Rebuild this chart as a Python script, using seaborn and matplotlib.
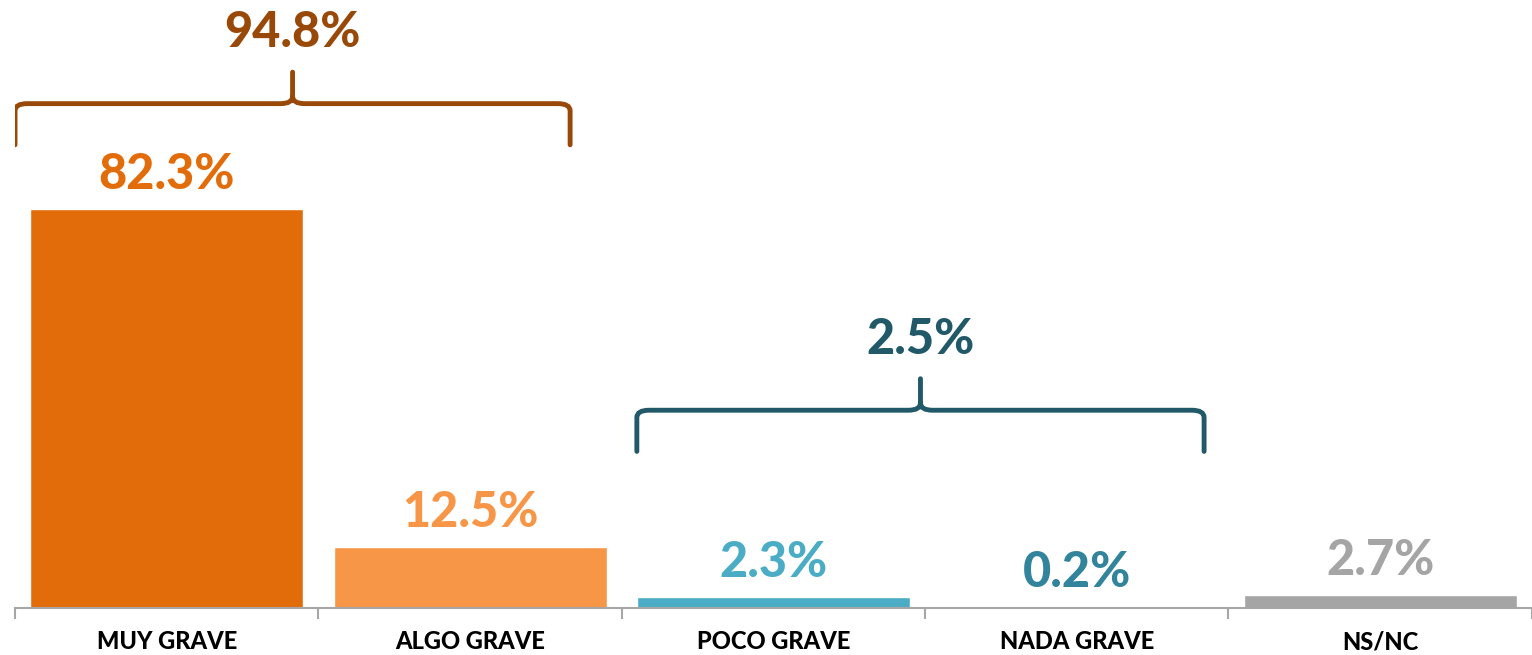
import matplotlib.pyplot as plt
import numpy as np
import pandas as pd
import seaborn as sns
from matplotlib.path import Path
from matplotlib.patches import PathPatch

categories = ["MUY GRAVE", "ALGO GRAVE", "POCO GRAVE", "NADA GRAVE", "NS/NC"]
values = [82.3, 12.5, 2.3, 0.2, 2.7]
bar_colors = ["#E36C0A", "#F79646", "#4BACC6", "#31849B", "#A5A5A5"]
label_colors = ["#E36C0A", "#F79646", "#4BACC6", "#31849B", "#A5A5A5"]

# grouped totals shown with braces
group_labels = ["94.8%", "2.5%"]
group_spans = [(0, 1), (2, 3)]
group_colors = ["#984807", "#215968"]

df = pd.DataFrame({"cat": categories, "val": values})

sns.set_theme(style="white")
plt.rcParams["font.family"] = ["Lato", "DejaVu Sans"]

fig = plt.figure(figsize=(15.32, 6.55), dpi=100)
ax = fig.add_axes([0.0098, 0.072, 0.99, 0.928])

sns.barplot(data=df, x="cat", y="val", hue="cat", palette=bar_colors,
            width=0.9, legend=False, ax=ax, saturation=1, zorder=2)

ax.set_xlim(-0.5, 4.5)
ax.set_ylim(0, 125.5)

for i, (v, c) in enumerate(zip(values, label_colors)):
    ax.text(i, v + 2.5, f"{v:.1f}%", ha="center", va="bottom",
            fontsize=35, fontweight="black", color=c, zorder=3)


def brace(ax, x0, x1, y, color, depth=8.5, tip=6.5, r=0.04):
    xm = (x0 + x1) / 2
    verts = [
        (x0, y - depth), (x0, y - 1.5),
        (x0, y), (x0 + r, y),
        (xm - r, y),
        (xm, y), (xm, y + 1.5),
        (xm, y + tip),
        (xm, y + 1.5), (xm, y), (xm + r, y),
        (x1 - r, y),
        (x1, y), (x1, y - 1.5),
        (x1, y - depth),
    ]
    codes = [Path.MOVETO, Path.LINETO,
             Path.CURVE3, Path.CURVE3,
             Path.LINETO,
             Path.CURVE3, Path.CURVE3,
             Path.LINETO,
             Path.MOVETO, Path.CURVE3, Path.CURVE3,
             Path.LINETO,
             Path.CURVE3, Path.CURVE3,
             Path.LINETO]
    ax.add_patch(PathPatch(Path(verts, codes), fill=False, edgecolor=color,
                           lw=3.5, capstyle="round", zorder=3))


for (a, b), lab, col in zip(group_spans, group_labels, group_colors):
    top = max(values[a:b + 1])
    if a == 0:
        x0, x1, y = a - 0.5, b + 0.33, top + 21.8
    else:
        x0, x1, y = a - 0.45, b + 0.42, 40.8
    brace(ax, x0, x1, y, col)
    ax.text((x0 + x1) / 2, y + 10, lab, ha="center", va="bottom",
            fontsize=35, fontweight="black", color=col, zorder=3)

sns.despine(ax=ax, left=True, top=True, right=True)
ax.spines["bottom"].set_color("#A6A6A6")
ax.spines["bottom"].set_linewidth(1.5)
ax.set_yticks([])
ax.set_xlabel("")
ax.set_ylabel("")
ax.set_xticks(range(len(categories)))
ax.set_xticklabels(categories, fontsize=17, fontweight="black", color="black")
ax.tick_params(axis="x", which="major", length=0, pad=16)
ax.set_xticks(np.arange(-0.5, len(categories), 1.0), minor=True)
ax.tick_params(axis="x", which="minor", length=8, width=1.5,
               color="#A6A6A6", direction="out", bottom=True)

fig.savefig("out.png", dpi=100)
